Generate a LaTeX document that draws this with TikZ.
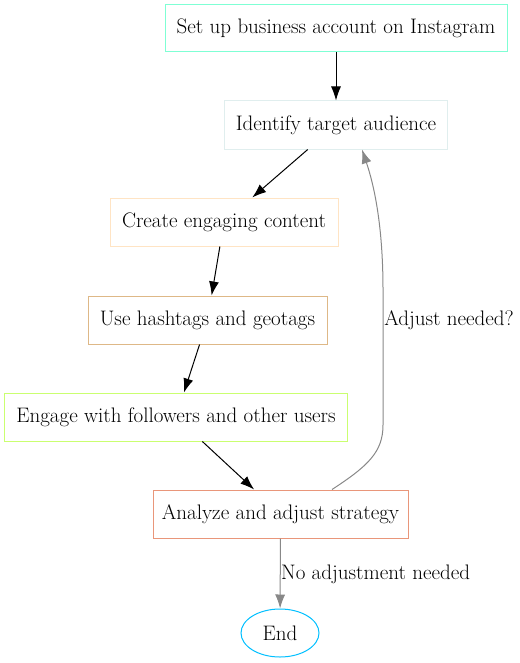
\documentclass[tikz,border=0pt]{standalone}
\usetikzlibrary{arrows.meta,calc,shapes.geometric}
\definecolor{cA}{HTML}{7FFFD4}
\definecolor{cB}{HTML}{E0EEEE}
\definecolor{cC}{HTML}{FFE4C4}
\definecolor{cD}{HTML}{DEB887}
\definecolor{cE}{HTML}{CAFF70}
\definecolor{cF}{HTML}{E9967A}
\definecolor{cG}{HTML}{00BFFF}
\definecolor{eg}{HTML}{888888}
\tikzset{
  box/.style={draw, line width=1bp, rectangle, minimum height=48bp, inner sep=0pt, font=\fontsize{21bp}{24bp}\selectfont},
  arr/.style={-{Latex[length=14bp,width=10bp]}, line width=1bp},
  garr/.style={arr, draw=eg, color=eg},
  lbl/.style={font=\fontsize{21bp}{24bp}\selectfont, inner sep=0pt}
}
\begin{document}
\begin{tikzpicture}[x=1bp,y=-1bp]
\useasboundingbox (0,0) rectangle (520,663);
\node[box, draw=cA, minimum width=342bp, minimum height=47bp] (n1) at (336,28.5) {Set up business account on Instagram};
\node[box, draw=cB, minimum width=223bp] (n2) at (336,125) {Identify target audience};
\node[box, draw=cC, minimum width=228bp] (n3) at (224,222) {Create engaging content};
\node[box, draw=cD, minimum width=239bp] (n4) at (207.5,320) {Use hashtags and geotags};
\node[box, draw=cE, minimum width=342bp] (n5) at (176,417) {Engage with followers and other users};
\node[box, draw=cF, minimum width=255bp] (n6) at (280.5,514) {Analyze and adjust strategy};
\node[ellipse, draw=cG, line width=1bp, minimum width=78bp, minimum height=48bp, inner sep=0pt, font=\fontsize{21bp}{24bp}\selectfont] (n7) at (280,633) {End};

\draw[arr] (n1) -- (n2);
\draw[arr] (n2) -- (n3);
\draw[arr] (n3) -- (n4);
\draw[arr] (n4) -- (n5);
\draw[arr] (n5) -- (n6);

\coordinate (s6) at ($(n6.north)+(51.5,0)$);
\coordinate (t2) at ($(n2.south)+(26,0)$);
\draw[garr] (s6) .. controls (368,466) and (383,452) .. (383,425)
  -- (383,290) .. controls (383,225) and (374,185) .. (t2);
\node[lbl] (l1) at (449,320) {Adjust needed?};

\draw[garr] (n6) -- (n7);
\node[lbl, anchor=west] (l2) at (281,574) {No adjustment needed};
\end{tikzpicture}
\end{document}
